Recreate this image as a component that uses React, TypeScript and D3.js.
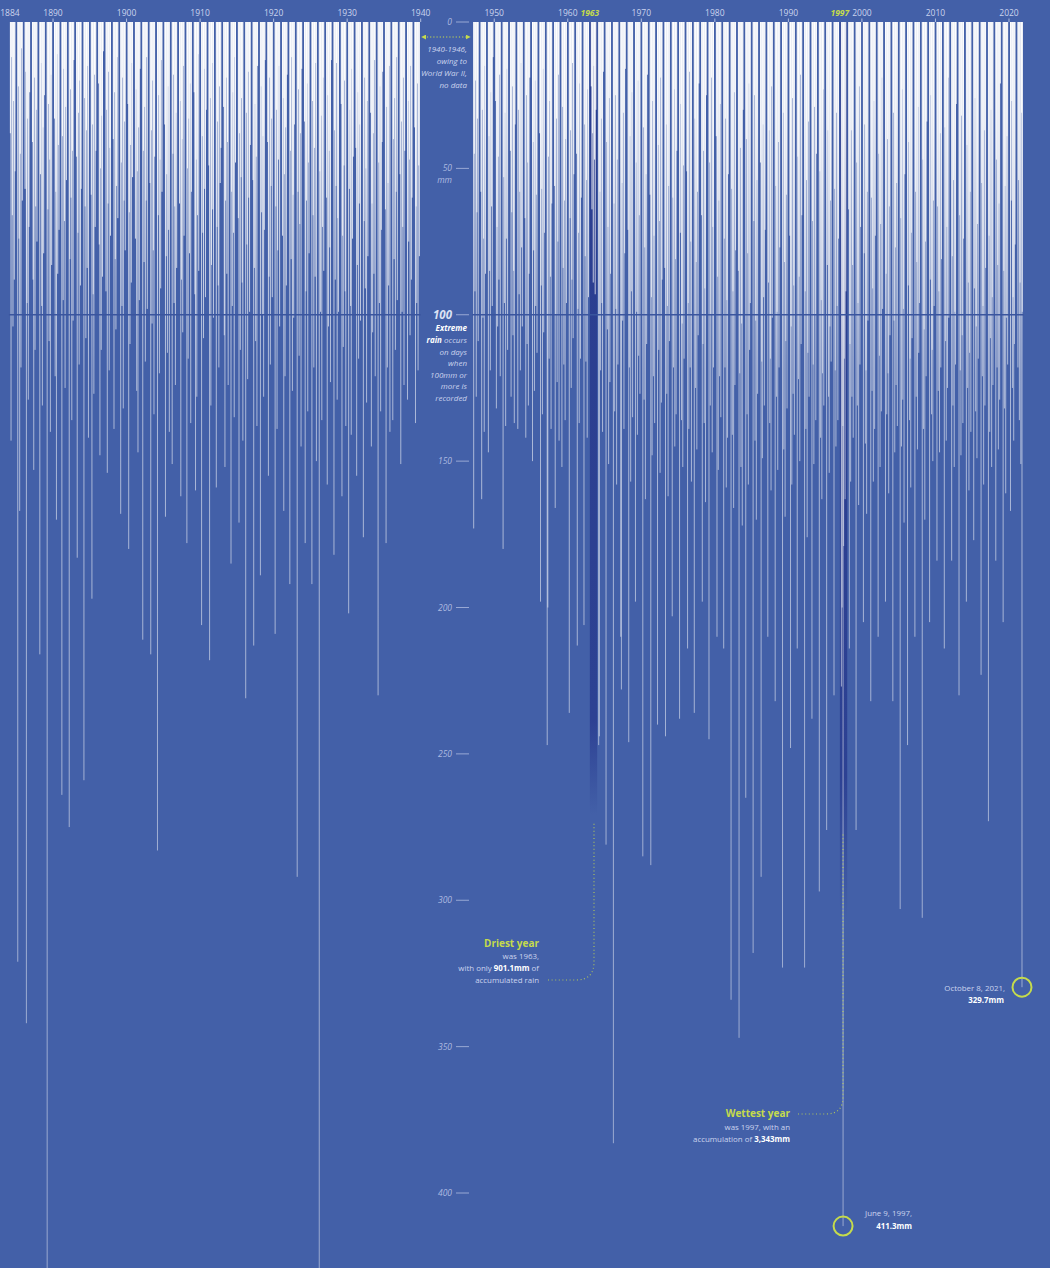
import React, { useEffect } from "react";
import * as d3 from "d3";

const width = 1050;
const height = 1268;

// daily rain totals (mm) of the wetter days of each year
const firstYear = 1884;
const rainPreWar: number[][] = [
  [38, 143, 12, 66, 104, 27, 88, 51], // 1884
  [321, 22, 74, 167, 45, 118, 9, 61],
  [57, 17, 342, 96, 33, 129, 70, 24],
  [41, 88, 153, 19, 112, 63, 30, 75],
  [216, 52, 14, 97, 131, 36, 79, 25],
  [697.1, 64, 28, 109, 47, 140, 18, 83],
  [33, 121, 58, 170, 11, 86, 42, 71], // 1890
  [264, 39, 95, 16, 68, 125, 29, 54],
  [275, 81, 23, 60, 136, 44, 102, 13],
  [46, 183, 72, 31, 117, 20, 90, 57],
  [259, 26, 63, 108, 37, 84, 15, 142],
  [59, 197, 35, 93, 127, 18, 70, 44],
  [21, 76, 148, 50, 112, 32, 87, 10],
  [92, 30, 154, 62, 17, 119, 43, 73],
  [40, 139, 24, 81, 105, 56, 12, 67],
  [168, 48, 97, 19, 132, 61, 34, 78],
  [28, 180, 65, 110, 42, 89, 14, 53], // 1900
  [74, 23, 126, 51, 147, 36, 95, 16],
  [211, 44, 82, 29, 116, 61, 12, 98],
  [55, 216, 37, 103, 20, 78, 134, 46],
  [283, 66, 25, 120, 47, 91, 13, 58],
  [35, 169, 80, 52, 113, 22, 71, 140],
  [151, 45, 18, 96, 63, 124, 31, 84],
  [62, 27, 162, 88, 40, 106, 15, 73],
  [178, 50, 115, 33, 79, 21, 137, 58],
  [24, 93, 160, 47, 128, 66, 11, 85],
  [206, 39, 72, 108, 16, 57, 94, 30], // 1910
  [49, 218, 26, 131, 83, 14, 64, 101],
  [159, 70, 34, 90, 118, 22, 55, 43],
  [29, 107, 152, 61, 19, 86, 41, 124],
  [185, 58, 97, 24, 72, 135, 12, 48],
  [67, 171, 38, 112, 53, 26, 89, 143],
  [231, 31, 76, 122, 17, 60, 99, 42],
  [54, 213, 84, 28, 109, 46, 138, 15],
  [189, 22, 65, 100, 39, 128, 71, 13],
  [41, 155, 87, 19, 117, 56, 33, 94],
  [209, 63, 30, 139, 78, 47, 15, 104], // 1920
  [73, 26, 167, 52, 121, 36, 90, 18],
  [192, 44, 81, 12, 126, 59, 101, 35],
  [292, 58, 23, 114, 69, 38, 145, 16],
  [34, 178, 92, 61, 21, 133, 48, 79],
  [192, 27, 66, 118, 43, 87, 14, 150],
  [534.1, 51, 99, 32, 136, 70, 19, 85],
  [60, 158, 25, 104, 44, 77, 123, 13],
  [182, 37, 88, 56, 14, 129, 67, 99],
  [28, 162, 73, 111, 49, 20, 92, 138],
  [202, 57, 30, 97, 141, 16, 74, 46], // 1930
  [43, 155, 83, 24, 115, 62, 35, 102],
  [176, 68, 19, 91, 50, 130, 27, 80],
  [31, 145, 62, 106, 38, 86, 13, 121],
  [230, 48, 96, 22, 133, 71, 41, 17],
  [64, 178, 29, 118, 55, 90, 15, 140],
  [136, 40, 81, 26, 112, 58, 12, 95],
  [52, 151, 34, 99, 70, 19, 124, 44],
  [129, 27, 75, 47, 107, 15, 88, 60],
  [36, 137, 63, 96, 21, 119, 49, 80], // 1939
];

const postWarStart = 1947;
const rainPostWar: number[][] = [
  [173, 45, 92, 20, 128, 65, 33, 109], // 1947
  [58, 163, 30, 101, 74, 140, 15, 86],
  [147, 39, 85, 119, 24, 63, 97, 12],
  [27, 132, 70, 104, 46, 88, 18, 121], // 1950
  [180, 53, 96, 31, 138, 74, 16, 112],
  [44, 128, 65, 22, 107, 85, 137, 35],
  [139, 30, 93, 58, 119, 14, 77, 104],
  [67, 142, 25, 110, 48, 131, 86, 19],
  [150, 41, 78, 126, 20, 97, 59, 113],
  [38, 198, 90, 57, 134, 16, 106, 72],
  [247, 200, 46, 115, 27, 87, 139, 62],
  [56, 166, 100, 33, 123, 75, 18, 143],
  [152, 29, 84, 117, 61, 136, 40, 96],
  [236, 67, 37, 125, 88, 14, 108, 52], // 1960
  [45, 213, 98, 72, 137, 21, 115, 60],
  [206, 35, 80, 116, 54, 142, 23, 94],
  [22, 64, 38, 89, 15, 47, 93, 30],
  [247, 244, 58, 119, 33, 96, 140, 17],
  [281, 41, 105, 70, 151, 26, 123, 86],
  [383, 62, 133, 25, 98, 158, 47, 117],
  [210, 228, 55, 102, 31, 139, 79, 16],
  [71, 246, 118, 39, 157, 92, 24, 135],
  [198, 48, 99, 141, 20, 114, 66, 127],
  [285, 36, 129, 77, 163, 52, 110, 18], // 1970
  [59, 288, 94, 148, 27, 121, 73, 137],
  [240, 42, 112, 68, 154, 19, 130, 88],
  [84, 244, 35, 127, 97, 162, 56, 109],
  [203, 60, 118, 23, 145, 81, 134, 44],
  [238, 72, 28, 136, 103, 152, 49, 115],
  [51, 214, 96, 139, 17, 118, 75, 157],
  [236, 33, 125, 82, 146, 58, 107, 21],
  [66, 198, 110, 44, 137, 91, 164, 25],
  [245, 48, 131, 100, 19, 147, 70, 118],
  [39, 210, 87, 153, 61, 121, 28, 135], // 1980
  [214, 74, 118, 33, 159, 95, 142, 52],
  [334, 57, 141, 92, 166, 24, 124, 78],
  [85, 347, 120, 43, 152, 103, 172, 30],
  [265, 40, 134, 79, 158, 21, 112, 96],
  [318, 68, 25, 143, 102, 170, 54, 127],
  [48, 292, 116, 149, 35, 94, 131, 71],
  [210, 89, 37, 137, 115, 160, 22, 101],
  [232, 56, 128, 99, 153, 41, 118, 77],
  [323, 31, 146, 82, 169, 109, 59, 132],
  [73, 248, 104, 158, 26, 127, 90, 141], // 1990
  [214, 46, 122, 87, 150, 18, 110, 66],
  [323, 92, 139, 54, 176, 113, 34, 128],
  [238, 68, 117, 151, 29, 100, 136, 45],
  [297, 51, 142, 95, 163, 120, 23, 131],
  [276, 83, 37, 128, 154, 104, 61, 116],
  [230, 57, 119, 145, 31, 97, 136, 74],
  [227, 200, 138, 179, 115, 163, 92],
  [64, 214, 110, 157, 37, 128, 83, 142],
  [276, 48, 131, 96, 165, 22, 117, 70],
  [205, 79, 35, 144, 119, 168, 58, 102], // 2000
  [232, 60, 126, 91, 157, 27, 139, 73],
  [210, 45, 114, 152, 69, 133, 19, 98],
  [198, 86, 134, 40, 120, 161, 63, 107],
  [232, 31, 102, 147, 77, 124, 55, 138],
  [303, 67, 145, 23, 129, 98, 171, 52],
  [247, 90, 41, 136, 115, 159, 72, 108],
  [210, 58, 128, 82, 146, 29, 113, 96],
  [306, 47, 139, 105, 170, 75, 121, 34],
  [205, 88, 25, 134, 112, 150, 61, 97],
  [184, 63, 126, 92, 147, 38, 118, 81], // 2010
  [214, 36, 109, 143, 70, 125, 19, 101],
  [184, 80, 131, 54, 152, 99, 117, 28],
  [230, 66, 119, 148, 32, 107, 137, 74],
  [198, 42, 125, 89, 160, 113, 58, 140],
  [177, 91, 26, 133, 104, 149, 69, 115],
  [223, 55, 121, 97, 158, 37, 131, 84],
  [273, 73, 140, 108, 30, 152, 94, 124],
  [184, 47, 118, 83, 146, 62, 129, 21],
  [205, 85, 132, 56, 161, 101, 39, 117],
  [167, 61, 27, 125, 94, 143, 110, 76], // 2020
  [118, 54, 136, 89, 151, 31, 99],
];

// annotated record days: year, day of year, mm
const noteYears = [1997, 2021];
const noteDays = [160, 281];
const noteValues = [411.3, 329.7];
const noteDates = ["June 9, 1997,", "October 8, 2021,"];

const decadeTicks = [1890, 1900, 1910, 1920, 1930, 1940, 1950, 1960, 1970, 1980, 1990, 2000, 2010, 2020];
const highlightYears = [1963, 1997];
const mmTicks = [0, 50, 100, 150, 200, 250, 300, 350, 400];

const BG = "#4360a8";
const LIME = "#c5db4c";
const SOFT = "#cbd4ee";
const MUTED = "#aebbe0";
const FONT = "'Open Sans', 'Noto Sans', sans-serif";

// rainy season, as a share of the year, where the listed days are laid out
const WET_START = 0.16;
const WET_SPAN = 0.7;

const x = d3.scaleLinear().domain([1884, 2022]).range([8.9, 1023.7]);
const y = d3.scaleLinear().domain([0, 400]).range([22, 1193]);

type Day = { t: number; v: number };
const days: Day[] = [];
const place = (vals: number[], yr: number) =>
  vals.forEach((v, j) => days.push({ t: yr + WET_START + (WET_SPAN * (j + 0.5)) / vals.length, v }));
rainPreWar.forEach((vals, i) => place(vals, firstYear + i));
rainPostWar.forEach((vals, i) => place(vals, postWarStart + i));
noteYears.forEach((yr, i) => days.push({ t: yr + (noteDays[i] - 0.5) / 365, v: noteValues[i] }));

const App = () => {
  useEffect(() => {
    document.body.style.margin = "0";
  }, []);

  const gapL = x(1940);
  const gapR = x(postWarStart);
  const noteX = noteYears.map((yr, i) => x(yr + (noteDays[i] - 0.5) / 365));
  const noteY = noteValues.map((v) => y(v));

  return (
    <svg width={width} height={height} style={{ display: "block", fontFamily: FONT }}>
      <defs>
        <linearGradient id="lineFade" gradientUnits="userSpaceOnUse" x1={0} x2={0} y1={y(0)} y2={y(400)}>
          <stop offset={0} stopColor="#fff" stopOpacity={1} />
          <stop offset={0.08} stopColor="#fff" stopOpacity={0.92} />
          <stop offset={0.2} stopColor="#fff" stopOpacity={0.72} />
          <stop offset={0.3} stopColor="#fff" stopOpacity={0.56} />
          <stop offset={1} stopColor="#fff" stopOpacity={0.45} />
        </linearGradient>
        <linearGradient id="band1963" gradientUnits="userSpaceOnUse" x1={0} x2={0} y1={y(0)} y2={815}>
          <stop offset={0} stopColor="#2a3d8f" />
          <stop offset={0.88} stopColor="#2d4193" />
          <stop offset={1} stopColor="#2d4193" stopOpacity={0} />
        </linearGradient>
        <linearGradient id="band1997" gradientUnits="userSpaceOnUse" x1={0} x2={0} y1={y(0)} y2={920}>
          <stop offset={0} stopColor="#2a3d8f" />
          <stop offset={0.84} stopColor="#2d4193" />
          <stop offset={1} stopColor="#2d4193" stopOpacity={0} />
        </linearGradient>
        <marker id="arr" viewBox="0 0 6 6" refX={3} refY={3} markerWidth={5} markerHeight={5} orient="auto-start-reverse">
          <path d="M0,0 L6,3 L0,6 z" fill={LIME} />
        </marker>
      </defs>

      <rect width={width} height={height} fill={BG} />

      {highlightYears.map((yr) => (
        <rect
          key={yr}
          x={x(yr)}
          y={y(0)}
          width={x(yr + 1) - x(yr)}
          height={(yr === 1963 ? 815 : 920) - y(0)}
          fill={`url(#band${yr})`}
        />
      ))}

      <g stroke="url(#lineFade)" strokeWidth={1}>
        {days.map((d, i) => (
          <line key={i} x1={x(d.t)} x2={x(d.t)} y1={y(0)} y2={y(d.v)} />
        ))}
      </g>

      {/* 100mm threshold */}
      <g stroke="#3a559e" strokeWidth={1.6}>
        <line x1={x(1884)} x2={gapL} y1={y(100)} y2={y(100)} />
        <line x1={gapR} x2={x(2022)} y1={y(100)} y2={y(100)} />
      </g>

      {/* year axis */}
      <g fontSize={8.5} textAnchor="middle" fill={SOFT}>
        <text x={x(1884) + 1} y={16}>1884</text>
        {decadeTicks.map((yr) => (
          <g key={yr}>
            <text x={x(yr)} y={16}>{yr}</text>
            <line x1={x(yr)} x2={x(yr)} y1={18.5} y2={22} stroke={SOFT} strokeWidth={0.8} />
          </g>
        ))}
        {highlightYears.map((yr) => (
          <text key={yr} x={x(yr)} y={16} fill={LIME} fontWeight="bold" fontStyle="italic">{yr}</text>
        ))}
      </g>

      {/* mm axis in the war gap */}
      <g fontSize={8.5} fontStyle="italic" fill={MUTED} textAnchor="end">
        {mmTicks.map((t) => (
          <g key={t}>
            <line x1={456} x2={469} y1={y(t)} y2={y(t)} stroke={MUTED} strokeWidth={0.8} />
            {t === 100 ? (
              <text x={452} y={y(t) + 4} fontSize={11.5} fontWeight="bold" fill="#dbe2f4">{t}</text>
            ) : (
              <text x={452} y={y(t) + 3}>{t}</text>
            )}
          </g>
        ))}
        <text x={452} y={y(50) + 15}>mm</text>
      </g>

      <g fontSize={8} fontStyle="italic" fill={SOFT} textAnchor="end">
        <text x={467} y={331}><tspan fontWeight="bold" fill="#fff">Extreme</tspan></text>
        <text x={467} y={343}><tspan fontWeight="bold" fill="#fff">rain</tspan> occurs</text>
        <text x={467} y={355}>on days</text>
        <text x={467} y={366}>when</text>
        <text x={467} y={378}>100mm or</text>
        <text x={467} y={389}>more is</text>
        <text x={467} y={401}>recorded</text>
      </g>

      <line x1={gapL + 3} x2={gapR - 4} y1={37} y2={37} stroke={LIME} strokeWidth={1} strokeDasharray="1.2 2"
        markerStart="url(#arr)" markerEnd="url(#arr)" />
      <g fontSize={8} fontStyle="italic" fill={SOFT} textAnchor="end">
        <text x={467} y={52}>1940-1946,</text>
        <text x={467} y={64}>owing to</text>
        <text x={467} y={76}>World War II,</text>
        <text x={467} y={88}>no data</text>
      </g>

      {/* driest year */}
      <path d="M548,980 L576,980 Q594,980 594,962 L594,822" fill="none" stroke={LIME} strokeWidth={1.2}
        strokeDasharray="1 2.6" opacity={0.8} />
      <g textAnchor="end" fontSize={7.9} fill={SOFT}>
        <text x={539} y={947} fontSize={10} fontWeight="bold" fill={LIME}>Driest year</text>
        <text x={539} y={959}>was 1963,</text>
        <text x={539} y={971}>with only <tspan fontWeight="bold" fill="#fff">901.1mm</tspan> of</text>
        <text x={539} y={983}>accumulated rain</text>
      </g>

      {/* wettest year */}
      <path d="M798,1114 L826,1114 Q843,1114 843,1097 L843,832" fill="none" stroke={LIME} strokeWidth={1.2}
        strokeDasharray="1 2.6" opacity={0.8} />
      <g textAnchor="end" fontSize={7.9} fill={SOFT}>
        <text x={790} y={1117} fontSize={10} fontWeight="bold" fill={LIME}>Wettest year</text>
        <text x={790} y={1130}>was 1997, with an</text>
        <text x={790} y={1142}>accumulation of <tspan fontWeight="bold" fill="#fff">3,343mm</tspan></text>
      </g>

      {/* record days */}
      {noteValues.map((v, i) => (
        <g key={i}>
          <circle cx={noteX[i]} cy={noteY[i]} r={9.5} fill="none" stroke={LIME} strokeWidth={2} />
          <g textAnchor="end" fontSize={7.9} fill={SOFT}>
            <text x={i === 0 ? 912 : 1005} y={noteY[i] - (i === 0 ? 10 : -4)}>{noteDates[i]}</text>
            <text x={i === 0 ? 912 : 1004} y={noteY[i] + (i === 0 ? 3 : 16)} fontWeight="bold" fill="#fff">
              {v}mm
            </text>
          </g>
        </g>
      ))}
    </svg>
  );
};

export default App;
